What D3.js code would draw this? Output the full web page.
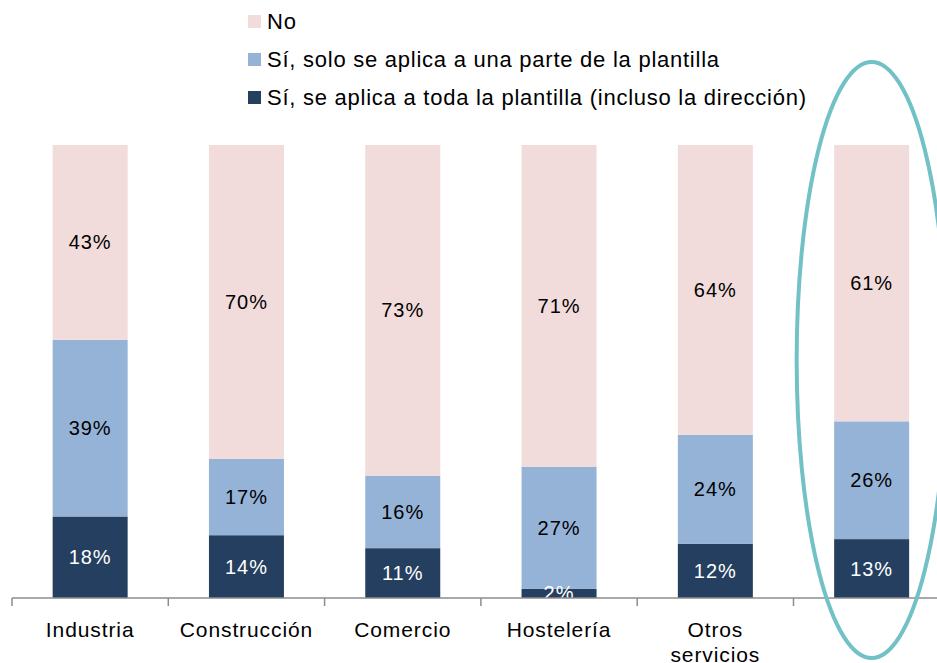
<!DOCTYPE html>
<html>
<head>
<meta charset="utf-8">
<script src="https://cdn.jsdelivr.net/npm/d3@7"></script>
<style>
  body { margin: 0; background: #fff; }
  svg { display: block; font-family: "Liberation Sans", Arial, sans-serif; }
</style>
</head>
<body>
<div id="chart"></div>
<script>
// categories (the last one has no visible label in the source)
var categories = ['Industria', 'Construcción', 'Comercio', 'Hostelería', 'Otros servicios', ''];
var seriesNames = ['Sí, se aplica a toda la plantilla (incluso la dirección)', 'Sí, solo se aplica a una parte de la plantilla', 'No'];
var toda = [18, 14, 11, 2, 12, 13];
var parte = [39, 17, 16, 27, 24, 26];
var no = [43, 70, 73, 71, 64, 61];
var colors = ['#253f60', '#95b3d7', '#f2dcdb'];
var textColors = ['#ffffff', '#000000', '#000000'];

var width = 937, height = 663;
var svg = d3.select('#chart').append('svg')
    .attr('width', width)
    .attr('height', height);

var rows = categories.map(function(c, i) {
    return { cat: i, toda: toda[i], parte: parte[i], no: no[i] };
});
var stack = d3.stack()
    .keys(['toda', 'parte', 'no'])
    .offset(d3.stackOffsetExpand);
var stacked = stack(rows);

var x = d3.scaleBand()
    .domain(d3.range(categories.length))
    .range([12, 12 + 156.3 * categories.length])
    .paddingInner(0)
    .paddingOuter(0);
var barW = 75;
var y = d3.scaleLinear().domain([0, 1]).range([598, 145]);

svg.append('clipPath').attr('id', 'plotclip')
    .append('rect')
    .attr('x', 0).attr('y', 0).attr('width', width).attr('height', 598);

var plot = svg.append('g').attr('clip-path', 'url(#plotclip)');

var layers = plot.selectAll('g.layer')
    .data(stacked)
    .enter()
    .append('g')
    .attr('class', 'layer')
    .attr('fill', function(d, i) { return colors[i]; });

layers.selectAll('rect')
    .data(function(d) { return d; })
    .enter()
    .append('rect')
    .attr('x', function(d, i) { return x(i) + x.bandwidth() / 2 - barW / 2; })
    .attr('y', function(d) { return y(d[1]); })
    .attr('width', barW)
    .attr('height', function(d) { return y(d[0]) - y(d[1]); });

var rawSeries = [toda, parte, no];
stacked.forEach(function(layer, k) {
    plot.append('g').selectAll('text')
        .data(layer)
        .enter()
        .append('text')
        .attr('x', function(d, i) { return x(i) + x.bandwidth() / 2; })
        .attr('y', function(d) { return (y(d[0]) + y(d[1])) / 2; })
        .attr('dy', '0.35em')
        .attr('text-anchor', 'middle')
        .attr('font-size', 20)
        .attr('letter-spacing', 1)
        .attr('fill', textColors[k])
        .text(function(d, i) { return rawSeries[k][i] + '%'; });
});

// category axis
var axisG = svg.append('g').attr('transform', 'translate(0,598)');
axisG.append('line')
    .attr('x1', 12).attr('x2', width)
    .attr('stroke', '#8c8c8c').attr('stroke-width', 1.5);
axisG.selectAll('line.tick')
    .data(d3.range(categories.length + 1))
    .enter()
    .append('line')
    .attr('class', 'tick')
    .attr('x1', function(d) { return 12 + d * x.bandwidth(); })
    .attr('x2', function(d) { return 12 + d * x.bandwidth(); })
    .attr('y1', 0).attr('y2', 8)
    .attr('stroke', '#8c8c8c').attr('stroke-width', 1.5);

axisG.selectAll('text.cat')
    .data(categories)
    .enter()
    .append('text')
    .attr('class', 'cat')
    .attr('text-anchor', 'middle')
    .attr('font-size', 21)
    .attr('letter-spacing', 0.9)
    .attr('fill', '#000')
    .each(function(d, i) {
        var t = d3.select(this);
        var words = d.split(' ');
        var lines = d.length > 13 ? words : [d];
        lines.forEach(function(w, j) {
            t.append('tspan')
                .attr('x', x(i) + x.bandwidth() / 2)
                .attr('y', 39 + j * 25)
                .text(w);
        });
    });

// legend
var legendOrder = [2, 1, 0];
var legend = svg.append('g').attr('transform', 'translate(248,0)');
legendOrder.forEach(function(k, j) {
    var yy = 21.5 + j * 38;
    legend.append('rect')
        .attr('x', 0).attr('y', yy - 6.5)
        .attr('width', 13).attr('height', 13)
        .attr('fill', colors[k]);
    legend.append('text')
        .attr('x', 19).attr('y', yy)
        .attr('dy', '0.35em')
        .attr('font-size', 22)
        .attr('letter-spacing', 0.75)
        .attr('fill', '#000')
        .text(seriesNames[k]);
});

// highlight ellipse around the last bar
svg.append('ellipse')
    .attr('cx', x(categories.length - 1) + x.bandwidth() / 2)
    .attr('cy', 360)
    .attr('rx', 75)
    .attr('ry', 298)
    .attr('fill', 'none')
    .attr('stroke', '#72c1c6')
    .attr('stroke-width', 4);
</script>
</body>
</html>
